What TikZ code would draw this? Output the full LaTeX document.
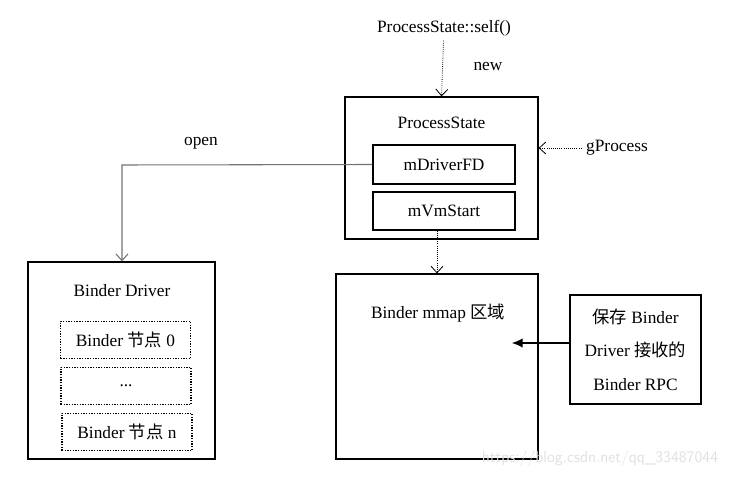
\documentclass[tikz,border=0pt]{standalone}
\usepackage{fontspec}
\setmainfont{Liberation Serif}
\newfontfamily\cjk{Noto Sans CJK SC}
\usetikzlibrary{arrows.meta}

\begin{document}
\begin{tikzpicture}[x=0.75pt, y=-0.75pt, font=\fontsize{13}{15}\selectfont,
    box/.style={draw, line width=0.9pt, inner sep=0pt},
    nodebox/.style={draw, densely dotted, line width=1pt, inner sep=0pt, minimum width=97.5pt, minimum height=28pt},
    open/.style={-{Straight Barb[length=5pt, width=9pt]}},
    dotarrow/.style={open, densely dotted, line width=0.6pt}]
        \useasboundingbox (0,0) rectangle (732,477);
        \node (self) at (444, 28) {ProcessState::self()};
        \node (newlbl) at (488, 67) {new};
        \node[box, minimum width=144.75pt, minimum height=106.5pt] (ps) at (441.5, 168) {};
        \node (pstitle) at (441.5, 123) {ProcessState};
        \node[box, minimum width=106.5pt, minimum height=29.25pt] (fd) at (444, 164.5) {mDriverFD};
        \node[box, minimum width=106.5pt, minimum height=28.5pt] (vm) at (444, 211) {mVmStart};
        \node (gp) at (617, 148) {gProcess};
        \node (openlbl) at (201, 143) {open};
        \coordinate (bend) at (122, 165);
        % binder driver side
        \node[box, minimum width=140.25pt, minimum height=147.75pt] (drv) at (121.5, 360.5) {};
        \node (drvtitle) at (122, 291) {Binder Driver};
        \node[nodebox] (n0) at (125.5, 340) {Binder {\cjk 节点} 0};
        \node[nodebox] (dots) at (126, 386) {...};
        \node[nodebox] (nn) at (127, 432) {Binder {\cjk 节点} n};
        % mmap side
        \node[box, minimum width=151.5pt, minimum height=138.75pt] (mmap) at (437, 366.5) {};
        \node (mmaptitle) at (438, 313) {Binder mmap {\cjk 区域}};
        \node[box, minimum width=98.25pt, minimum height=81.75pt, align=center, font=\fontsize{13}{25}\selectfont] (rpc) at (635.5, 349.5) {{\cjk 保存} Binder\\Driver {\cjk 接收的}\\Binder RPC};
        \coordinate (rpcend) at (512, 343);
        \node[text=black!12, font=\sffamily\fontsize{12}{14}\selectfont] (mark) at (600, 458) {https://blog.csdn.net/qq\_33487044};

        \draw[dotarrow] (self) -- (ps.north);
        \draw[dotarrow] (gp.west) -- (ps.east |- gp.west);
        \draw[open, black!55, line width=0.8pt] (fd.west) -- (bend) -- (drv.north -| bend);
        \draw[dotarrow] (vm.south -| mmap.north) -- (mmap.north);
        \draw[-{Latex[length=8pt, width=7pt]}, line width=0.8pt] (rpc.west |- rpcend) -- (rpcend);
      \end{tikzpicture}
\end{document}
